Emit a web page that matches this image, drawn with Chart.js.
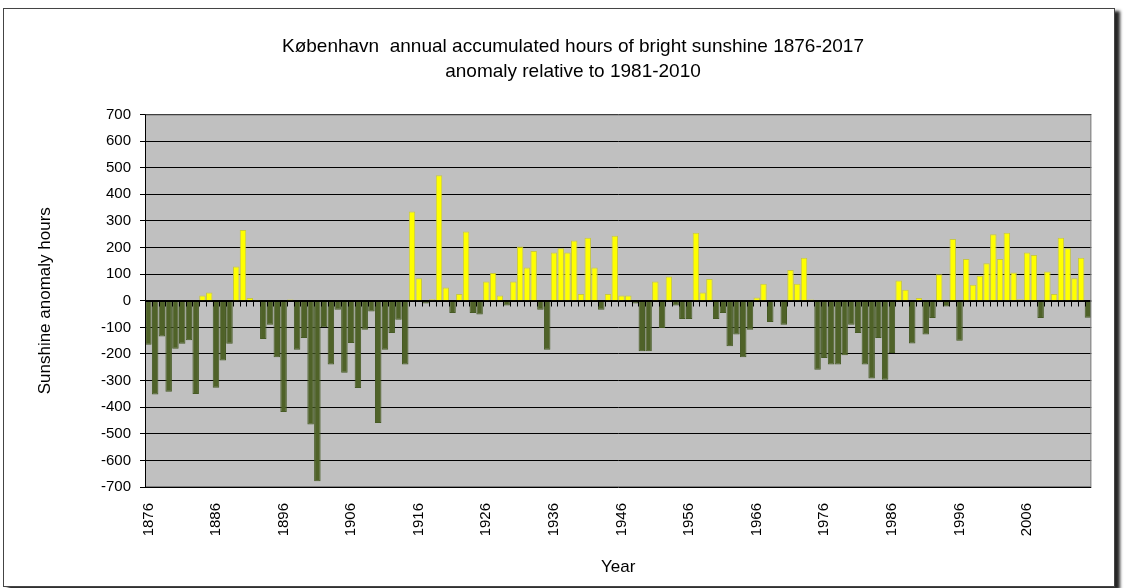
<!DOCTYPE html>
<html>
<head>
<meta charset="utf-8">
<script src="https://cdn.jsdelivr.net/npm/chart.js@4.4.1/dist/chart.umd.min.js"></script>
<style>
  html, body { margin: 0; padding: 0; background: #fff; }
  #frame {
    position: absolute; left: 3px; top: 8px;
    width: 1110px; height: 577px;
    border: 1px solid #444;
    box-shadow: 5px 3px 3px rgba(0, 0, 0, 0.85);
    background: #fff;
  }
  #frame canvas { display: block; }
</style>
</head>
<body>
<div id="frame"><canvas id="sunChart" width="1110" height="577"></canvas></div>
<script>
const firstYear = 1876;
// anomaly (hours) per year, 1876 onwards
const anomaly = [
  -165, -352, -134, -342, -180, -162, -148, -350, 20, 31,
  -327, -225, -162, 129, 266, 10, 4, -144, -90, -212,
  -418, 5, -184, -140, -465, -678, -100, -240, -34, -271,
  -159, -328, -109, -40, -459, -184, -121, -71, -240, 335,
  85, -10, 6, 472, 50, -46, 25, 260, -46, -52,
  72, 104, 20, -18, 72, 204, 125, 187, -34, -184,
  181, 197, 181, 226, 25, 237, 125, -34, 25, 244,
  20, 20, -10, -190, -190, 72, -102, 91, -18, -69,
  -69, 256, 31, 82, -69, -46, -171, -127, -212, -109,
  12, 64, -80, 2, -90, 116, 64, 162, 5, -259,
  -215, -240, -240, -205, -90, -121, -240, -292, -140, -297,
  -196, 76, 41, -161, 10, -127, -65, 100, -22, 232,
  -150, 157, 60, 94, 141, 250, 157, 256, 106, 6,
  181, 172, -65, 110, 25, 237, 197, 85, 162, -64
];
const years = anomaly.map((v, i) => String(firstYear + i));
const labelEvery = 10;
const yMin = -700, yMax = 700, yStep = 100;

const titleLines = [
  'København  annual accumulated hours of bright sunshine 1876-2017',
  'anomaly relative to 1981-2010'
];

const FONT = '"Liberation Sans", Arial, sans-serif';

// grey plot area, plus the zero line with its little category ticks
const plotDecor = {
  id: 'plotDecor',
  beforeDraw(chart) {
    const { ctx, chartArea: a } = chart;
    ctx.save();
    ctx.fillStyle = '#c0c0c0';
    ctx.fillRect(a.left, a.top, a.right - a.left, a.bottom - a.top);
    ctx.restore();
  },
  afterDatasetsDraw(chart) {
    const { ctx, chartArea: a, scales } = chart;
    const y0 = Math.round(scales.y.getPixelForValue(0)) + 0.5;
    const n = years.length;
    const step = (a.right - a.left) / n;
    ctx.save();
    ctx.strokeStyle = '#000';
    ctx.lineWidth = 1;
    ctx.beginPath();
    ctx.moveTo(a.left, y0);
    ctx.lineTo(a.right, y0);
    for (let i = 1; i < n; i++) {
      const x = Math.round(a.left + i * step) + 0.5;
      ctx.moveTo(x, y0);
      ctx.lineTo(x, y0 + 5);
    }
    ctx.stroke();
    // plot border
    ctx.strokeStyle = '#808080';
    ctx.strokeRect(a.left + 0.5, a.top + 0.5, a.right - a.left - 1, a.bottom - a.top - 1);
    ctx.strokeStyle = '#000';
    ctx.beginPath();
    ctx.moveTo(a.left + 0.5, a.top);
    ctx.lineTo(a.left + 0.5, a.bottom);
    ctx.stroke();
    ctx.restore();
  }
};

new Chart(document.getElementById('sunChart'), {
  type: 'bar',
  data: {
    labels: years,
    datasets: [{
      data: anomaly,
      backgroundColor: c => c.raw >= 0 ? '#ffff00' : '#4f6228',
      borderColor: c => c.raw >= 0 ? '#c8c840' : '#465a24',
      borderWidth: 1,
      barPercentage: 0.96,
      categoryPercentage: 1
    }]
  },
  options: {
    responsive: false,
    animation: false,
    layout: { padding: { left: 47, right: 19, top: 0, bottom: 0 } },
    plugins: {
      legend: { display: false },
      tooltip: { enabled: false },
      title: {
        display: true,
        text: titleLines,
        color: '#000',
        font: { family: FONT, size: 19, weight: 'normal', lineHeight: 1.316 },
        padding: { top: 25.5, bottom: 30 }
      }
    },
    scales: {
      x: {
        grid: { display: false },
        border: { display: false },
        ticks: {
          autoSkip: false,
          minRotation: 90,
          maxRotation: 90,
          padding: 8,
          color: '#000',
          font: { family: FONT, size: 15 },
          callback: (v, i) => i % labelEvery === 0 ? years[i] : ''
        },
        title: {
          display: true,
          text: 'Year',
          color: '#000',
          font: { family: FONT, size: 17 },
          padding: { top: 4, bottom: 8 }
        },
        afterFit: s => { s.height = 99; }
      },
      y: {
        min: yMin,
        max: yMax,
        grid: { color: '#000', lineWidth: 1, tickLength: 5, drawTicks: true },
        border: { display: true, color: '#000' },
        ticks: {
          stepSize: yStep,
          padding: 9,
          color: '#000',
          font: { family: FONT, size: 15 }
        },
        title: {
          display: true,
          text: 'Sunshine anomaly hours',
          color: '#000',
          font: { family: FONT, size: 17 },
          padding: { top: -16, bottom: 0 }
        },
        afterFit: s => { s.width = 94; }
      }
    }
  },
  plugins: [plotDecor]
});
</script>
</body>
</html>
